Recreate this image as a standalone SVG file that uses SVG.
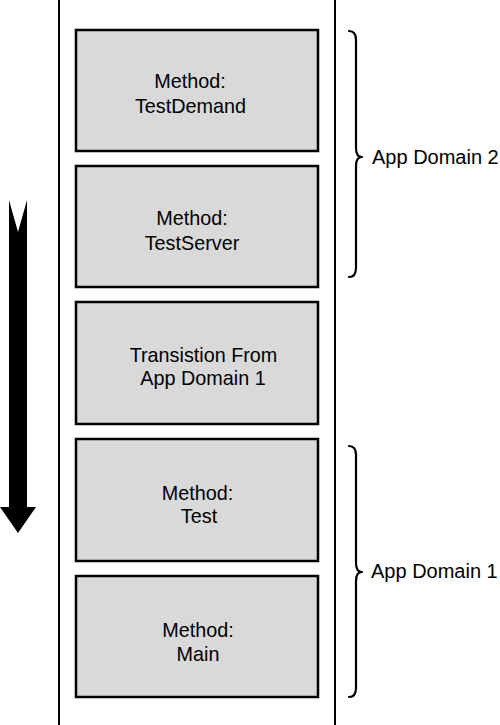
<svg xmlns="http://www.w3.org/2000/svg" width="500" height="725" viewBox="0 0 500 725">
<style>
.box{fill:#d9d9d9;stroke:#000;stroke-width:2.5}
.t{font-family:"Liberation Sans",Arial,sans-serif;font-size:19.8px;fill:#000;text-anchor:middle}
.l{font-family:"Liberation Sans",Arial,sans-serif;font-size:20px;fill:#000}
.br{fill:none;stroke:#000;stroke-width:2.2;stroke-linejoin:round;stroke-linecap:round}
</style>
<rect x="0" y="0" width="500" height="725" fill="#fff"/>
<g id="container">
<line x1="59" y1="0" x2="59" y2="725" stroke="#000" stroke-width="2"/>
<line x1="335" y1="0" x2="335" y2="725" stroke="#000" stroke-width="2"/>
</g>
<g id="testdemand"><rect class="box" x="76" y="30" width="242" height="121"/><text class="t" x="190" y="88">Method:</text><text class="t" x="190.5" y="113">TestDemand</text></g>
<g id="testserver"><rect class="box" x="76" y="166" width="242" height="121"/><text class="t" x="192" y="225">Method:</text><text class="t" x="192" y="250">TestServer</text></g>
<g id="transition"><rect class="box" x="76" y="302" width="242" height="122"/><text class="t" x="203.5" y="362">Transistion From</text><text class="t" x="203" y="385">App Domain 1</text></g>
<g id="test"><rect class="box" x="76" y="439" width="242" height="122"/><text class="t" x="197.5" y="500">Method:</text><text class="t" x="199" y="523">Test</text></g>
<g id="main"><rect class="box" x="76" y="576" width="242" height="121"/><text class="t" x="198" y="637">Method:</text><text class="t" x="198" y="661">Main</text></g>
<g id="connectors">
<path d="M9,200 L18,232 L27,200 L27,507 L36,507 L18,533 L0,507 L9,507 Z" fill="#000"/>
<path class="br" d="M349,31 Q356,31 356,40 L356,148 Q356,157 362,157 Q356,157 356,166 L356,268 Q356,277 349,277"/>
<path class="br" d="M349,446 Q356,446 356,455 L356,563 Q356,572 362,572 Q356,572 356,581 L356,688 Q356,697 349,697"/>
</g>
<g id="labels">
<text class="l" x="372" y="164">App Domain 2</text>
<text class="l" x="371" y="578">App Domain 1</text>
</g>
</svg>
